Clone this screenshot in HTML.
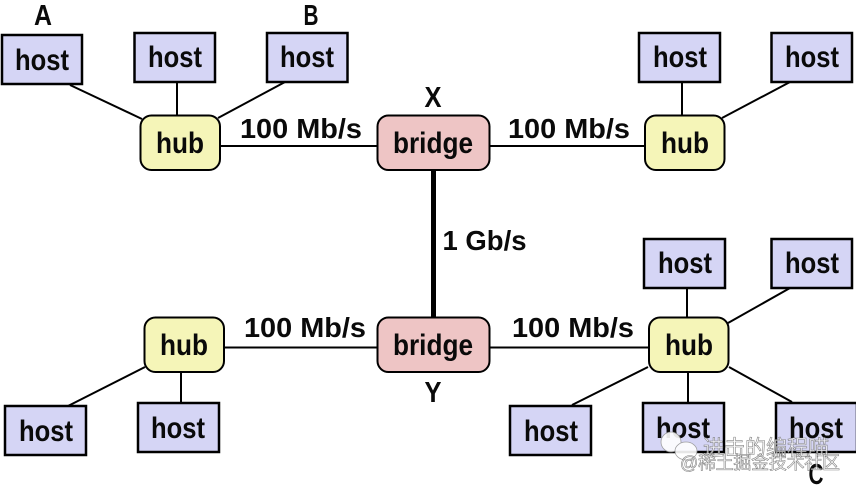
<!DOCTYPE html>
<html>
<head>
<meta charset="utf-8">
<style>
html,body{margin:0;padding:0;background:#fff;width:856px;height:487px;overflow:hidden}
svg{display:block}
text{font-family:"Liberation Sans",sans-serif;font-weight:bold;fill:#0a0a0a;text-anchor:middle}
.h{fill:#d5d5f5;stroke:#000;stroke-width:2.500}
.u{fill:#f5f5b8;stroke:#000;stroke-width:2}
.b{fill:#eec5c5;stroke:#000;stroke-width:2}
.l{stroke:#000;stroke-width:2;fill:none}
.t{font-size:30px}
.s{font-size:28px}
.m{font-size:29px}
.w{font-family:"Liberation Sans","Noto Sans CJK SC",sans-serif;font-weight:normal;text-anchor:start;fill:#fff;fill-opacity:.7;stroke:#666;stroke-width:.6;stroke-opacity:.8}
</style>
</head>
<body>
<svg width="856" height="487" viewBox="0 0 856 487" xmlns="http://www.w3.org/2000/svg">
<!-- connectors -->
<path class="l" d="M70 85L142 119M177 82V115M218 118L285 82M220 146H377M490 146H645M682 82V115M722 118L790 82"/>
<path class="l" d="M224 347.500H377M490 347.500H649M687 288V317M728 323L790 288M648 367L572 405M181 372V403M688 372V403M729 367L792 402M145 367L68 406"/>
<path d="M433.500 170V317" stroke="#000" stroke-width="5" fill="none"/>

<!-- hosts -->
<rect class="h" x="2" y="35" width="80" height="49"/>
<rect class="h" x="134.500" y="33" width="80.500" height="49"/>
<rect class="h" x="267" y="33" width="80.500" height="49"/>
<rect class="h" x="639" y="33" width="81" height="49"/>
<rect class="h" x="771.500" y="33" width="80.500" height="49"/>
<rect class="h" x="644" y="239" width="81" height="49"/>
<rect class="h" x="771.500" y="239" width="80.500" height="49"/>
<rect class="h" x="5" y="406" width="81" height="49"/>
<rect class="h" x="138" y="403" width="81" height="49"/>
<rect class="h" x="510" y="406" width="81" height="49"/>
<rect class="h" x="643" y="403" width="81" height="49"/>
<rect class="h" x="776" y="403" width="81" height="49"/>

<!-- hubs -->
<rect class="u" x="140.500" y="115.500" width="79.500" height="54.500" rx="11"/>
<rect class="u" x="645" y="115.500" width="79.500" height="54.500" rx="11"/>
<rect class="u" x="144.500" y="317.500" width="79.500" height="54.500" rx="11"/>
<rect class="u" x="649" y="317.500" width="79.500" height="54.500" rx="11"/>

<!-- bridges -->
<rect class="b" x="377.500" y="115.500" width="112" height="54.500" rx="11"/>
<rect class="b" x="377.500" y="317.500" width="112" height="54.500" rx="11"/>

<!-- host labels -->
<g class="t">
<text x="42" y="70" textLength="54" lengthAdjust="spacingAndGlyphs">host</text>
<text x="175" y="67" textLength="54" lengthAdjust="spacingAndGlyphs">host</text>
<text x="307" y="67" textLength="54" lengthAdjust="spacingAndGlyphs">host</text>
<text x="680" y="67" textLength="54" lengthAdjust="spacingAndGlyphs">host</text>
<text x="812" y="67" textLength="54" lengthAdjust="spacingAndGlyphs">host</text>
<text x="685" y="273" textLength="54" lengthAdjust="spacingAndGlyphs">host</text>
<text x="812" y="273" textLength="54" lengthAdjust="spacingAndGlyphs">host</text>
<text x="46" y="441" textLength="54" lengthAdjust="spacingAndGlyphs">host</text>
<text x="178" y="438" textLength="54" lengthAdjust="spacingAndGlyphs">host</text>
<text x="551" y="441" textLength="54" lengthAdjust="spacingAndGlyphs">host</text>
<text x="683" y="438" textLength="54" lengthAdjust="spacingAndGlyphs">host</text>
<text x="816" y="438" textLength="54" lengthAdjust="spacingAndGlyphs">host</text>

<text x="180" y="153" textLength="48" lengthAdjust="spacingAndGlyphs">hub</text>
<text x="685" y="153" textLength="48" lengthAdjust="spacingAndGlyphs">hub</text>
<text x="184" y="355" textLength="48" lengthAdjust="spacingAndGlyphs">hub</text>
<text x="689" y="355" textLength="48" lengthAdjust="spacingAndGlyphs">hub</text>

<text x="433" y="153" textLength="80" lengthAdjust="spacingAndGlyphs">bridge</text>
<text x="433" y="355" textLength="80" lengthAdjust="spacingAndGlyphs">bridge</text>
</g>

<!-- speed labels -->
<g class="s">
<text x="301" y="138" textLength="122" lengthAdjust="spacingAndGlyphs">100 Mb/s</text>
<text x="569" y="138" textLength="122" lengthAdjust="spacingAndGlyphs">100 Mb/s</text>
<text x="305" y="337" textLength="122" lengthAdjust="spacingAndGlyphs">100 Mb/s</text>
<text x="573" y="337" textLength="122" lengthAdjust="spacingAndGlyphs">100 Mb/s</text>
<text x="484.500" y="250" textLength="84" lengthAdjust="spacingAndGlyphs">1 Gb/s</text>
</g>

<!-- node letters -->
<g class="m">
<text x="43" y="25" textLength="18" lengthAdjust="spacingAndGlyphs">A</text>
<text x="311" y="25" textLength="15" lengthAdjust="spacingAndGlyphs">B</text>
<text x="433" y="107" textLength="17" lengthAdjust="spacingAndGlyphs">X</text>
<text x="433" y="402" textLength="17" lengthAdjust="spacingAndGlyphs">Y</text>
<text x="816" y="484" textLength="15" lengthAdjust="spacingAndGlyphs">C</text>
</g>

<!-- watermark -->
<g fill="#fff" stroke="#999" stroke-width=".8" opacity=".9">
<ellipse cx="671" cy="442" rx="10" ry="10"/>
<ellipse cx="686" cy="451" rx="11" ry="9"/>
</g>
<text class="w" x="703" y="455" textLength="126" style="font-size:21px">进击的编程喵</text>
<text class="w" x="680" y="469" textLength="160" style="font-size:18px">@稀土掘金技术社区</text>
</svg>
</body>
</html>
